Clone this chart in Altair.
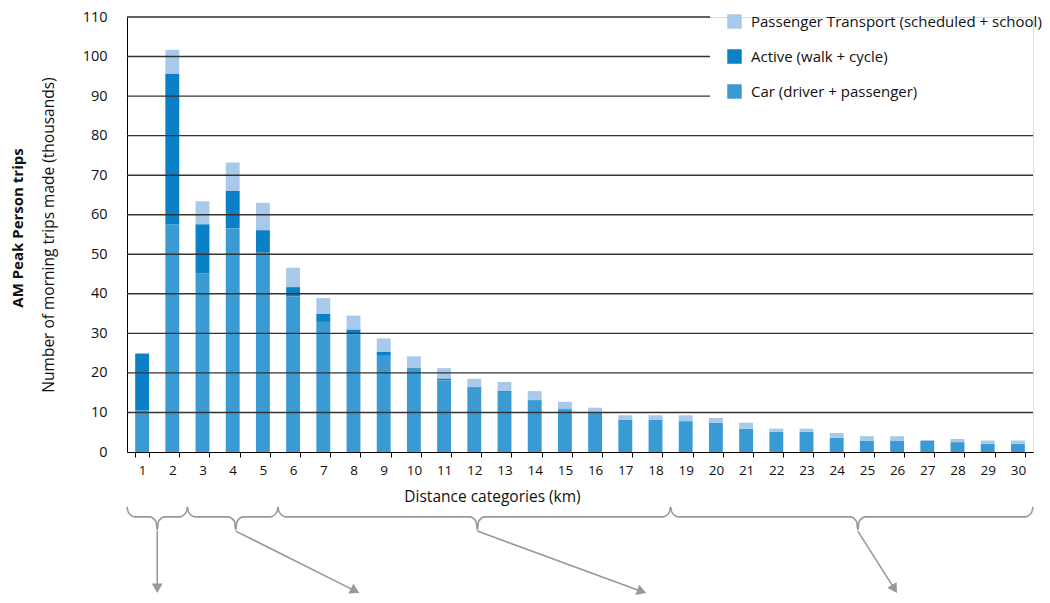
import math
import altair as alt
import pandas as pd

# ---- data ----
km = list(range(1, 31))
car = [10.5, 57.6, 45.1, 56.6, 50.4, 39.4, 32.9, 29.7, 24.5, 20.8,
       18.1, 16.2, 15.0, 13.1, 10.8, 10.0, 8.2, 8.2, 7.8, 7.4,
       5.9, 5.1, 5.1, 3.6, 2.9, 2.9, 2.9, 2.5, 2.1, 2.1]
active = [14.4, 38.1, 12.5, 9.4, 5.7, 2.3, 2.0, 1.3, 0.9, 0.4,
          0.5, 0.2, 0.4, 0.1, 0.2, 0.1, 0.0, 0.0, 0.0, 0.0,
          0.0, 0.0, 0.0, 0.0, 0.0, 0.0, 0.0, 0.0, 0.0, 0.0]
pt = [0.0, 6.0, 5.8, 7.2, 6.9, 4.9, 4.0, 3.5, 3.3, 3.0,
      2.6, 2.1, 2.3, 2.2, 1.7, 1.1, 1.1, 1.1, 1.5, 1.2,
      1.5, 0.8, 0.8, 1.2, 1.1, 1.1, 0.0, 0.8, 0.8, 0.8]

series_names = ["Passenger Transport (scheduled + school)",
                "Active (walk + cycle)",
                "Car (driver + passenger)"]
series_colors = ["#a9c9ea", "#0a80c6", "#3a9bd4"]

y_ticks = list(range(0, 111, 10))

# distance groups shown by braces under the axis (km)
brace_start = [0, 2, 5, 18]
brace_end = [2, 5, 18, 30]
brace_tip = [1.0, 3.6, 11.6, 24.2]
arrow_end = [1.0, 7.7, 17.2, 25.5]

W, H = 906, 435
YMAX = 110

rows = []
for i, k in enumerate(km):
    rows.append({"km": str(k), "mode": series_names[2], "v": car[i], "ord": 0})
    rows.append({"km": str(k), "mode": series_names[1], "v": active[i], "ord": 1})
    rows.append({"km": str(k), "mode": series_names[0], "v": pt[i], "ord": 2})
df = pd.DataFrame(rows)

FONT = "Open Sans"
yscale = alt.Scale(domain=[0, YMAX], nice=False, zero=True)
YTITLE = "Number of morning trips made (thousands)"

yaxis = alt.Axis(values=y_ticks, grid=False, ticks=False, tickSize=0,
                 labelOverlap=False,
                 labelPadding=20, labelFontSize=14.5, labelColor="#111",
                 domainColor="#000", titleFontSize=15.5,
                 titleFontWeight="normal", titleColor="#111",
                 titlePadding=26, titleFont=FONT, labelFont=FONT)

bars = alt.Chart(df).mark_bar().encode(
    x=alt.X("km:N", sort=[str(k) for k in km],
            scale=alt.Scale(paddingInner=0.54, paddingOuter=0.27),
            axis=alt.Axis(title="Distance categories (km)", labelAngle=0,
                          tickBand="extent", tickSize=5, tickColor="#000",
                          domainColor="#000", labelPadding=6, labelFontSize=13.5,
                          labelColor="#111", titleFontSize=15.5, titleFontWeight="normal",
                          titleColor="#111", titleX=365, titleY=37,
                          titleFont=FONT, labelFont=FONT, grid=False)),
    y=alt.Y("v:Q", stack="zero", scale=yscale, axis=yaxis, title=YTITLE),
    color=alt.Color("mode:N",
                    scale=alt.Scale(domain=series_names, range=series_colors),
                    legend=alt.Legend(title=None, orient="none", legendX=600,
                                      legendY=-3, symbolType="square",
                                      symbolSize=210, symbolStrokeWidth=0,
                                      rowPadding=19, labelFontSize=15,
                                      labelColor="#111", labelFont=FONT,
                                      labelOffset=9, labelLimit=400)),
    order=alt.Order("ord:Q"),
)

grid_df = pd.DataFrame({"g": [t for t in y_ticks if t > 0]})
grid_low = alt.Chart(grid_df).transform_filter("datum.g < 90").mark_rule(
    color="#333", strokeWidth=1.4).encode(
    y=alt.Y("g:Q", scale=yscale, axis=yaxis, title=YTITLE),
    x=alt.value(0), x2=alt.value(W))
grid_high = alt.Chart(grid_df).transform_filter("datum.g >= 90").mark_rule(
    color="#333", strokeWidth=1.4).encode(
    y=alt.Y("g:Q", scale=yscale, axis=yaxis, title=YTITLE),
    x=alt.value(0), x2=alt.value(583))

# braces (x in km, y in chart units below zero)
px_x = W / 30.0
px_y = H / YMAX
y_top, y_line, y_tip = -13.9, -16.4, -19.7
y_arrow = -35.7
brace_rows = []
arrow_rows = []
head_rows = []
for b in range(len(brace_start)):
    a, e, p = brace_start[b], brace_end[b], brace_tip[b]
    d = 0.25
    pts = [(a, y_top), (a + 0.04, y_line + 1.2), (a + d, y_line),
           (p - d, y_line), (p - 0.04, y_line - 1.2), (p, y_tip),
           (p + 0.04, y_line - 1.2), (p + d, y_line),
           (e - d, y_line), (e - 0.04, y_line + 1.2), (e, y_top)]
    for j, (xx, yy) in enumerate(pts):
        brace_rows.append({"b": b, "i": j, "x": xx, "y": yy})
    dx = (arrow_end[b] - p) * px_x
    dy = (y_tip - y_arrow) * px_y
    ang = math.degrees(math.atan2(dx, -dy)) % 360
    L = math.hypot(dx, dy)
    back = 5.0
    hx = arrow_end[b] - dx / L * back / px_x
    hy = y_arrow + dy / L * back / px_y
    arrow_rows.append({"b": b, "i": 0, "x": p, "y": y_tip - 0.3})
    arrow_rows.append({"b": b, "i": 1, "x": hx, "y": hy})
    head_rows.append({"x": hx, "y": hy, "ang": ang})

bx = alt.Scale(domain=[0, 30], nice=False, zero=False)
brace_layer = alt.Chart(pd.DataFrame(brace_rows)).mark_line(
    color="#999", strokeWidth=1.6, interpolate="monotone", clip=False).encode(
    x=alt.X("x:Q", scale=bx, axis=None),
    y=alt.Y("y:Q", scale=yscale, axis=yaxis, title=YTITLE),
    detail="b:N", order="i:Q")
arrow_layer = alt.Chart(pd.DataFrame(arrow_rows)).mark_line(
    color="#999", strokeWidth=1.6, clip=False).encode(
    x=alt.X("x:Q", scale=bx, axis=None),
    y=alt.Y("y:Q", scale=yscale, axis=yaxis, title=YTITLE),
    detail="b:N", order="i:Q")
head_layer = alt.Chart(pd.DataFrame(head_rows)).mark_point(
    shape="triangle-up", filled=True, color="#999", size=120, opacity=1,
    clip=False).encode(
    x=alt.X("x:Q", scale=bx, axis=None),
    y=alt.Y("y:Q", scale=yscale, axis=yaxis, title=YTITLE),
    angle=alt.Angle("ang:Q", scale=None))

bold_title = alt.Chart(pd.DataFrame({"t": ["AM Peak Person trips"]})).mark_text(
    angle=270, font=FONT, fontSize=15, fontWeight="bold", color="#111",
    align="center", baseline="middle").encode(
    text="t:N", x=alt.value(-109), y=alt.value(211))

chart = alt.layer(bars, grid_low, grid_high, brace_layer, arrow_layer,
                  head_layer, bold_title).resolve_scale(
    x="independent").properties(
    width=W, height=H,
    autosize=alt.AutoSizeParams(type="none"),
    padding={"left": 119, "top": 9, "right": 9, "bottom": 143},
).configure_view(stroke=None).configure(font=FONT)

chart.save("out.html", embed_options={"renderer": "svg", "actions": False})
